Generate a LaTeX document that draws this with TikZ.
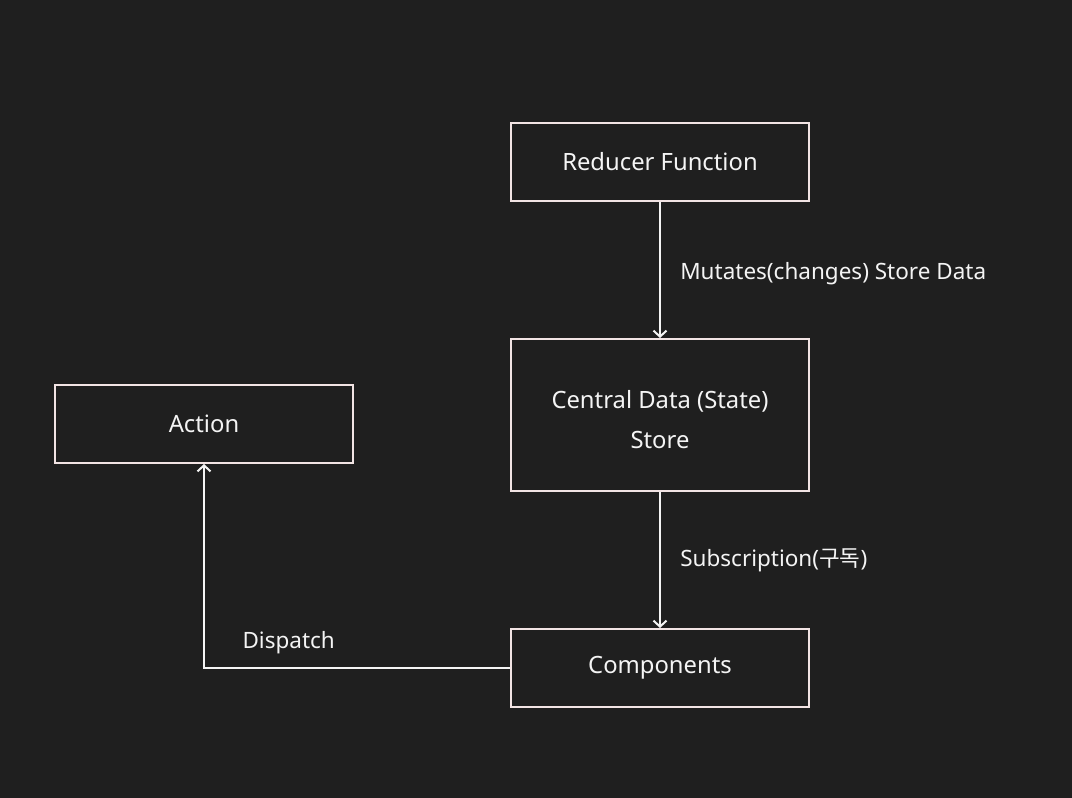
\documentclass[tikz,border=0pt]{standalone}
\usepackage{fontspec}
\setmainfont{Noto Sans}
\newfontfamily\krfont{Noto Sans CJK KR}
\usetikzlibrary{arrows.meta,positioning}
\definecolor{bg}{HTML}{1F1F1F}
\definecolor{edge}{HTML}{F2E4E4}
\definecolor{ink}{HTML}{F4F4F4}

\begin{document}
\begin{tikzpicture}[x=1pt,y=-1pt,
    box/.style={draw=edge,line width=2pt,fill=bg,minimum width=298pt,minimum height=78pt,text=ink,font=\fontsize{23.8}{40}\selectfont,align=center},
    flow/.style={draw=ink,line width=2pt,-{Straight Barb[length=6pt,width=13pt,line width=2pt]}},
    lbl/.style={text=ink,font=\fontsize{22.5}{26}\selectfont,anchor=west}]
    % Background
    \fill[bg] (0,0) rectangle (1072,798);
    \useasboundingbox (0,0) rectangle (1072,798);

    % Boxes
    \node[box] (reducer) at (660,162) {Reducer Function};
    \node[box,minimum height=152pt] (store) at (660,415) {\strut Central Data (State)\\Store};
    \node[box] (action) at (204,424) {Action};
    \node[box] (comp) at (660,668) {Components};

    % Connectors
    \draw[flow] (reducer) -- (store) node[lbl,pos=0.5,xshift=16pt,yshift=-4pt] {Mutates(changes) Store Data};
    \draw[flow] (store) -- (comp) node[lbl,pos=0.5,xshift=16pt] {Subscription({\krfont 구독})};
    \draw[flow] (comp.west) -| (action.south);
    \node[lbl] (dispatch) at (239,643) {Dispatch};
\end{tikzpicture}
\end{document}
